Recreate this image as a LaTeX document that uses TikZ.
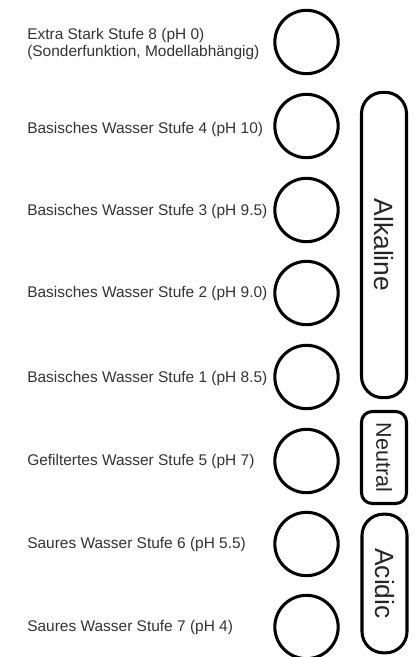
\documentclass[tikz,border=0pt]{standalone}
\usepackage{fontspec}
\setmainfont{Liberation Sans}
\begin{document}
\begin{tikzpicture}[x=0.75pt,y=-0.75pt,
  ring/.style={draw=black, line width=2.3pt, circle, minimum size=47.5pt, inner sep=0pt},
  lbl/.style={anchor=west, text=black!80, font=\fontsize{11.6}{12.2}\selectfont, align=left, inner sep=0pt},
  grp/.style={draw=black, line width=2.3pt, rectangle, inner sep=0pt, minimum width=33.75pt},
  grptext/.style={rotate=-90, text=black!85, inner sep=0pt}]
\useasboundingbox (0,0) rectangle (416,657);
% circles
\node[ring] (c8) at (306.5,42) {};
\node[ring] (c4) at (306.5,126) {};
\node[ring] (c3) at (306.5,210) {};
\node[ring] (c2) at (306.5,293) {};
\node[ring] (c1) at (306.5,377) {};
\node[ring] (c5) at (306.5,461) {};
\node[ring] (c6) at (306.5,544) {};
\node[ring] (c7) at (306.5,627) {};
% labels
\node[lbl] (t8) at (27,44) {Extra Stark Stufe 8 (pH 0)\\(Sonderfunktion, Modellabhängig)};
\node[lbl] (t4) at (27,129) {Basisches Wasser Stufe 4 (pH 10)};
\node[lbl] (t3) at (27,211) {Basisches Wasser Stufe 3 (pH 9.5)};
\node[lbl] (t2) at (27,293) {Basisches Wasser Stufe 2 (pH 9.0)};
\node[lbl] (t1) at (27,378) {Basisches Wasser Stufe 1 (pH 8.5)};
\node[lbl] (t5) at (27,461) {Gefiltertes Wasser Stufe 5 (pH 7)};
\node[lbl] (t6) at (27,544) {Saures Wasser Stufe 6 (pH 5.5)};
\node[lbl] (t7) at (27,627) {Saures Wasser Stufe 7 (pH 4)};
% group boxes
\node[grp, rounded corners=16pt, minimum height=229pt] (alk) at (384,245) {};
\node[grptext, font=\fontsize{19.8}{22}\selectfont] (alkt) at (alk.center) {Alkaline};
\node[grp, rounded corners=8pt, minimum height=69pt] (neu) at (384,457.5) {};
\node[grptext, font=\fontsize{16.2}{18}\selectfont] (neut) at (neu.center) {Neutral};
\node[grp, rounded corners=16pt, minimum height=104pt] (aci) at (384.5,583.5) {};
\node[grptext, font=\fontsize{19.8}{22}\selectfont] (acit) at (aci.center) {Acidic};
\end{tikzpicture}
\end{document}
